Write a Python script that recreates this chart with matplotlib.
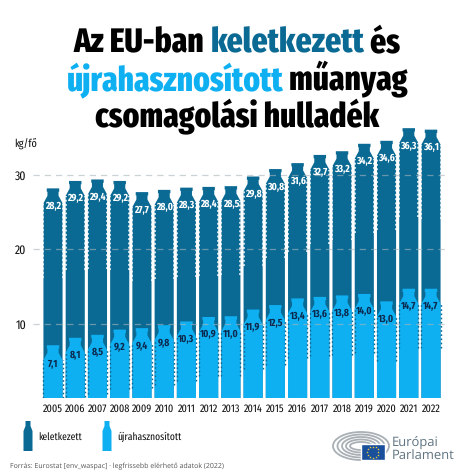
import numpy as np
import matplotlib
matplotlib.use('Agg')
import matplotlib.pyplot as plt
from matplotlib import font_manager as fm
from matplotlib.patches import Arc, Rectangle, Polygon

plt.rcParams['text.hinting'] = 'no_hinting'
plt.rcParams['text.hinting_factor'] = 1

# data
years = [2005, 2006, 2007, 2008, 2009, 2010, 2011, 2012, 2013, 2014,
         2015, 2016, 2017, 2018, 2019, 2020, 2021, 2022]
generated = [28.2, 29.2, 29.4, 29.2, 27.7, 28.0, 28.3, 28.4, 28.5, 29.8,
             30.8, 31.6, 32.7, 33.2, 34.2, 34.6, 36.3, 36.1]
recycled = [7.1, 8.1, 8.5, 9.2, 9.4, 9.8, 10.3, 10.9, 11.0, 11.9,
            12.5, 13.4, 13.6, 13.8, 14.0, 13.0, 14.7, 14.7]
y_ticks = [10, 20, 30]

DARK = '#0b6a94'
LIGHT = '#0fb0f2'
NAVY = '#0b2a4f'
SANS = ['Open Sans', 'DejaVu Sans']

# narrow face if this machine has it, otherwise smaller Liberation Sans
NARROW = 'Fira Sans Extra Condensed'
has_narrow = NARROW in {f.name for f in fm.fontManager.ttflist}
FONT = [NARROW, 'DejaVu Sans'] if has_narrow else ['Liberation Sans', 'DejaVu Sans']
SCALE = 1.0 if has_narrow else 0.8
TITLE_SIZE = 24.5 * SCALE
VALUE_SIZE = 7.5 * SCALE
TICK_SIZE = 8.0 * SCALE
LEGEND_SIZE = 7.5 * SCALE


def fmt(v):
    return f'{v:.1f}'.replace('.', ',')


def bottle(x, top, w=0.43):
    # outline of one bottle in data units
    n = 0.25
    xs = [-w, -w, -n, -n, -n - 0.03, -n - 0.03, n + 0.03, n + 0.03, n, n, w, w]
    ys = [0, top - 2.0, top - 1.0, top - 0.45, top - 0.45, top,
          top, top - 0.45, top - 0.45, top - 1.0, top - 2.0, 0]
    return np.column_stack([np.array(xs) + x, ys])


fig = plt.figure(figsize=(4.74, 4.74), dpi=100)

# background axes in pixels for title, legend, logo
bg = fig.add_axes([0, 0, 1, 1])
bg.set_xlim(0, 474)
bg.set_ylim(474, 0)
bg.axis('off')

# chart axes, 2005 center at 53 px, 2022 at 431 px, 0 at 398 px, 30 at 175 px
px_per_year = (431 - 53) / 17
px_per_kg = (398 - 175) / 30
left, right = 33, 445
bottom, top = 398, 120
ax = fig.add_axes([left / 474, 1 - bottom / 474, (right - left) / 474, (bottom - top) / 474])
ax.set_xlim(2005 - (53 - left) / px_per_year, 2022 + (right - 431) / px_per_year)
ax.set_ylim(0, (bottom - top) / px_per_kg)
ax.patch.set_alpha(0)
for s in ax.spines.values():
    s.set_visible(False)

for t in y_ticks:
    ax.axhline(t, color='#a9b5bc', lw=0.9, ls=(0, (5, 4)), alpha=0.6, zorder=4)

for yr, g, r in zip(years, generated, recycled):
    ax.add_patch(Polygon(bottle(yr, g), closed=True, fc=DARK, ec='none', zorder=2))
    ax.add_patch(Polygon(bottle(yr, r), closed=True, fc=LIGHT, ec='none', zorder=3.2))
    for side in (-0.43, 0.43):
        ax.plot([yr + side, yr + side], [max(g - 12, 0), g - 2.0], color='white', lw=1.1,
                ls=(0, (1.2, 1.6)), zorder=3)
        ax.plot([yr + side, yr + side], [max(r - 8, 0), r - 2.0], color=DARK, lw=1.0,
                ls=(0, (1.2, 1.8)), zorder=3.4)
    ax.text(yr, g - 2.4, fmt(g), color='white', ha='center', va='center', fontsize=VALUE_SIZE,
            fontweight='bold', family=FONT, zorder=5)
    ax.text(yr, r - 2.4, fmt(r), color=NAVY, ha='center', va='center', fontsize=VALUE_SIZE,
            fontweight='bold', family=FONT, zorder=5)

ax.set_xticks(years)
ax.set_xticklabels(years, fontsize=TICK_SIZE, family=FONT, color='#111111')
ax.tick_params(axis='x', length=0, pad=4)
ax.set_yticks(y_ticks)
ax.set_yticklabels(y_ticks, fontsize=TICK_SIZE * 1.15, family=FONT, color='#111111')
ax.tick_params(axis='y', length=0, pad=5)
bg.text(14, 143, 'kg/fő', fontsize=TICK_SIZE, family=FONT, color='#111111', va='center')

# title, pieces in different colours
title_lines = [
    (52, [('Az EU-ban ', 'black'), ('keletkezett', DARK), (' és', 'black')]),
    (90, [('újrahasznosított', LIGHT), (' műanyag', 'black')]),
    (127, [('csomagolási hulladék', 'black')]),
]
fig.canvas.draw()
rend = fig.canvas.get_renderer()
for base, parts in title_lines:
    widths = []
    for s, c in parts:
        # spaces are not measured by the bbox so measure with guard characters
        tmp = bg.text(0, 0, '|' + s + '|', fontsize=TITLE_SIZE, fontweight='heavy', family=FONT)
        bar = bg.text(0, 0, '||', fontsize=TITLE_SIZE, fontweight='heavy', family=FONT)
        widths.append(tmp.get_window_extent(rend).width - bar.get_window_extent(rend).width)
        tmp.remove()
        bar.remove()
    x = 237 - sum(widths) / 2
    for (s, c), w in zip(parts, widths):
        bg.text(x, base, s, fontsize=TITLE_SIZE, fontweight='heavy', family=FONT, color=c, va='baseline')
        x += w

# legend
for cx, col, label, tx in [(28, DARK, 'keletkezett', 38), (107, LIGHT, 'újrahasznosított', 117)]:
    bg.add_patch(Polygon([(cx - 4.5, 451), (cx - 4.5, 431), (cx - 2.5, 426), (cx - 2.5, 421),
                          (cx + 2.5, 421), (cx + 2.5, 426), (cx + 4.5, 431), (cx + 4.5, 451)],
                         closed=True, fc=col, ec='none'))
    bg.text(tx, 437, label, fontsize=LEGEND_SIZE, family=FONT, color='#111111', va='center')

bg.text(10, 466, 'Forrás: Eurostat [env_waspac] · legfrissebb elérhető adatok (2022)',
        fontsize=4.7, family=SANS, color='#555555', va='center')

# logo
for w, h in [(56, 28), (47, 23), (38, 18), (30, 13), (22, 8)]:
    bg.add_patch(Arc((361, 446), w, h, theta1=0, theta2=360, color='#a9b0b5', lw=1.3))
bg.add_patch(Rectangle((361, 444), 24, 16, fc='#1a4f9c', ec='white', lw=1.0))
for a in np.arange(0, 360, 30):
    bg.plot(373 + 5.5 * np.cos(np.radians(a)), 452 + 5.5 * np.sin(np.radians(a)), marker='*',
            ms=1.8, color='#f5d33a', mec='none')
bg.text(392, 443, 'Európai', fontsize=9.2, family=SANS, color='#5f7380', va='center')
bg.text(392, 456, 'Parlament', fontsize=9.2, family=SANS, color='#5f7380', va='center')

fig.savefig('out.png', dpi=100)
